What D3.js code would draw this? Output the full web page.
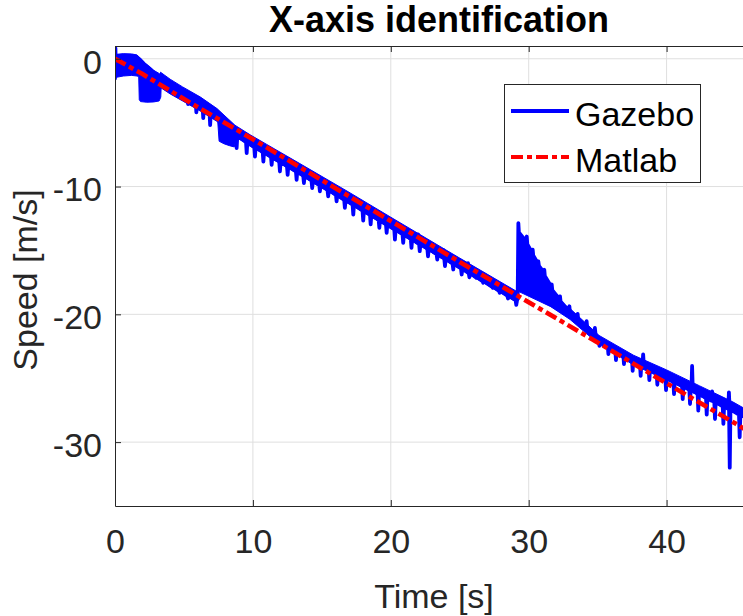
<!DOCTYPE html>
<html>
<head>
<meta charset="utf-8">
<script src="https://cdn.jsdelivr.net/npm/d3@7"></script>
<style>
  body { margin: 0; background: #fff; }
  svg { display: block; font-family: "Liberation Sans", Arial, Helvetica, sans-serif; }
  .grid line { stroke: #dfdfdf; stroke-width: 1; }
  .axis .domain, .axis .tick line { stroke: #262626; stroke-width: 1; }
  .axis text { fill: #262626; font-size: 34px; }
  .axis-label { fill: #262626; font-size: 34px; }
  .chart-title { fill: #000; font-size: 36px; font-weight: bold; }
  .legend text { fill: #000; font-size: 34px; }
</style>
</head>
<body>
<div id="chart"></div>
<script>
// axis limits and ticks
const xDomain = [0, 46.6];
const yDomain = [-35, 1];
const xTicks = [0, 10, 20, 30, 40];
const yTicks = [0, -10, -20, -30];
const seriesNames = ["Gazebo", "Matlab"];

// Matlab model output [time, speed]
const matlabData = [
  [0, 0], [2, -1.2], [5, -3.15], [10, -6.3], [15, -9.5], [20, -12.7],
  [25, -15.9], [30, -19.05], [35, -22.2], [40, -25.4], [45, -28.55], [46.6, -29.6]
];

// Gazebo: start of the run [time, speed]
const gazeboHead = [
  [0, -1.55], [0.03, 0.85], [0.07, -1.2], [0.12, 0.2], [0.6, 0.25], [1.2, 0.23],
  [1.55, 0.15], [1.8, -0.05], [2.1, -0.4], [2.5, -0.75], [3.0, -1.3], [3.7, -1.95],
  [4.3, -2.35], [4.9, -2.75], [5.25, -3.0], [5.3, -3.55], [5.35, -3.05], [5.85, -3.35],
  [5.9, -4.2], [5.95, -3.4], [6.35, -3.7], [6.4, -4.65], [6.45, -3.75], [6.85, -4.05],
  [6.9, -5.2], [6.95, -4.1], [7.4, -4.45], [8.0, -5.0], [8.7, -5.75]
];

// Gazebo: oscillation spikes [time, base speed, spike tip]
const gazeboSpikesMid = [
  [8.82, -6.05, -7.0], [9.55, -6.51, -7.39], [10.15, -6.9, -7.65], [10.76, -7.28, -8.04],
  [11.36, -7.66, -8.3], [11.96, -8.04, -8.82], [12.52, -8.4, -9.08], [13.17, -8.81, -9.47],
  [13.7, -9.15, -9.73], [14.3, -9.53, -10.12], [14.86, -9.89, -10.38], [15.46, -10.27, -10.76],
  [16.07, -10.65, -11.16], [16.67, -11.04, -11.66], [17.28, -11.42, -12.2], [18.0, -11.88, -12.66],
  [18.54, -12.22, -12.96], [19.17, -12.62, -13.24], [19.7, -12.96, -13.63], [20.3, -13.34, -14.15],
  [20.9, -13.72, -14.41], [21.5, -14.1, -14.8], [21.98, -14.41, -13.75], [22.1, -14.48, -15.06],
  [22.7, -14.86, -15.46], [23.37, -15.29, -15.71], [23.8, -15.56, -14.95], [23.93, -15.65, -16.23],
  [24.53, -16.03, -16.49], [25.14, -16.41, -16.88], [25.6, -16.71, -16.0], [25.7, -16.77, -17.1],
  [26.2, -17.09, -17.14], [26.7, -17.4, -17.53], [27.4, -17.85, -17.92], [27.9, -18.17, -18.31],
  [28.5, -18.55, -18.76], [29.1, -18.9, -19.26]
];

// Gazebo: disturbance near 29 s [time, speed]
const gazeboBurst = [
  [29.2, -18.8], [29.25, -12.87], [29.29, -13.6], [29.81, -14.3], [29.86, -13.91],
  [29.9, -14.5], [30.25, -15.2], [30.29, -14.94], [30.33, -15.4], [30.66, -16.0],
  [30.7, -15.86], [30.74, -16.2], [31.09, -16.7], [31.13, -16.51], [31.17, -17.0],
  [31.62, -17.8], [31.67, -17.67], [31.71, -18.1], [32.22, -18.8], [32.27, -18.59],
  [32.31, -19.0], [32.9, -19.7], [32.95, -19.37], [33.0, -20.0], [33.5, -20.4],
  [33.55, -19.97], [33.6, -20.55], [34.15, -21.0], [34.2, -20.54], [34.25, -21.1],
  [34.75, -21.5], [34.8, -21.06], [34.85, -21.6]
];

// Gazebo: spikes after the disturbance [time, base speed, spike tip]
const gazeboSpikesTail = [
  [35.13, -21.95, -22.46], [35.78, -22.4, -23.12], [36.33, -22.75, -23.59], [36.91, -23.1, -23.9],
  [37.54, -23.5, -24.42], [38.12, -23.85, -24.81], [38.3, -23.95, -23.14], [38.75, -24.25, -25.15],
  [39.33, -24.6, -25.51], [39.96, -24.95, -25.93], [40.54, -25.25, -26.24], [41.17, -25.6, -26.63],
  [41.7, -25.9, -27.02], [41.85, -25.97, -24.04], [42.3, -26.2, -27.54], [42.91, -26.55, -27.85],
  [43.3, -26.75, -26.04], [43.51, -26.85, -28.19], [44.12, -27.2, -28.58], [44.52, -27.4, -26.1],
  [44.58, -27.43, -32.0], [45.3, -27.85, -29.62]
];
const gazeboEnd = [[45.7, -28.05]];

// dense oscillation bands [time, lower, upper]
const bandStart = [
  [0.1, -1.45, 0.35], [0.6, -1.35, 0.4], [1.2, -1.3, 0.38], [1.6, -1.35, 0.3],
  [1.72, -1.4, 0.15], [1.76, -3.2, 0.05], [1.85, -3.35, -0.05], [2.3, -3.4, -0.45],
  [2.8, -3.38, -0.9], [3.2, -3.3, -1.15], [3.32, -3.0, -1.25], [3.36, -1.9, -1.27]
];
const bandEight = [
  [7.45, -4.9, -4.15], [7.55, -6.45, -4.25], [7.9, -6.65, -4.55], [8.3, -6.8, -4.95],
  [8.65, -6.9, -5.35], [8.72, -6.5, -5.45], [8.76, -6.0, -5.5]
];
const bandMain = [
  [3.3, -2.25, -1.05], [4.0, -2.75, -1.6], [4.9, -3.3, -2.2], [6.2, -4.1, -3.0],
  [7.4, -4.9, -3.9], [8.7, -6.05, -5.2], [9.8, -6.85, -5.95], [11, -7.6, -6.7],
  [13.4, -9.1, -8.2], [16.9, -11.3, -10.4], [20, -13.3, -12.4], [25, -16.45, -15.6],
  [29.2, -19.1, -18.25], [29.25, -18.2, -17.6], [31.6, -19.4, -18.6], [33.0, -20.4, -19.55],
  [35.1, -22.35, -21.65], [37.6, -23.95, -23.2], [40, -25.15, -24.35], [42.4, -26.4, -25.6],
  [44.8, -27.65, -26.85], [45.7, -28.15, -27.4]
];
const bandBurst = [
  [29.2, -18.3, -18.3], [29.24, -18.0, -13.0], [29.3, -17.95, -13.6], [29.85, -18.3, -14.4],
  [30.3, -18.6, -15.3], [30.7, -18.85, -16.1], [31.1, -19.05, -16.8], [31.65, -19.4, -17.9],
  [32.25, -19.8, -18.8], [32.9, -20.2, -19.6], [33.5, -20.55, -20.3], [34.0, -20.9, -20.85]
];

class SpeedVis {
  constructor(_parentElement) {
    this.parentElement = _parentElement;
    this.initVis();
  }

  initVis() {
    let vis = this;

    vis.width = 743;
    vis.height = 616;
    vis.margin = { top: 46, left: 115, bottom: 110 };
    vis.plotRight = 757.6;

    vis.svg = d3
      .select("#" + vis.parentElement)
      .append("svg")
      .attr("width", vis.width)
      .attr("height", vis.height);

    vis.x = d3.scaleLinear().domain(xDomain).range([vis.margin.left, vis.plotRight]);
    vis.y = d3.scaleLinear().domain(yDomain).range([vis.height - vis.margin.bottom, vis.margin.top]);

    vis.svg
      .append("defs")
      .append("clipPath")
      .attr("id", "plot-clip")
      .append("rect")
      .attr("x", vis.margin.left)
      .attr("y", vis.margin.top)
      .attr("width", vis.plotRight - vis.margin.left)
      .attr("height", vis.y.range()[0] - vis.margin.top);

    vis.gridGroup = vis.svg.append("g").attr("class", "grid");
    vis.plotGroup = vis.svg.append("g").attr("clip-path", "url(#plot-clip)");
    vis.axisGroup = vis.svg.append("g");
    vis.legendGroup = vis.svg.append("g").attr("class", "legend");

    vis.wrangleData();
  }

  wrangleData() {
    let vis = this;
    const spikeHalf = 0.05;
    const spikePoints = (list) =>
      list.flatMap(([t, base, tip]) => [
        [t - spikeHalf, base],
        [t, tip],
        [t + spikeHalf, base],
      ]);

    vis.gazeboData = [
      ...gazeboHead,
      ...spikePoints(gazeboSpikesMid),
      ...gazeboBurst,
      ...spikePoints(gazeboSpikesTail),
      ...gazeboEnd,
    ];
    vis.bands = [bandStart, bandEight, bandMain, bandBurst];

    vis.updateVis();
  }

  updateVis() {
    let vis = this;
    const x = vis.x;
    const y = vis.y;
    const yBottom = y.range()[0];

    // grid
    vis.gridGroup
      .selectAll(".gx")
      .data(xTicks.filter((d) => d !== 0))
      .join("line")
      .attr("class", "gx")
      .attr("x1", (d) => x(d))
      .attr("x2", (d) => x(d))
      .attr("y1", vis.margin.top)
      .attr("y2", yBottom);

    vis.gridGroup
      .selectAll(".gy")
      .data(yTicks)
      .join("line")
      .attr("class", "gy")
      .attr("x1", vis.margin.left)
      .attr("x2", vis.plotRight)
      .attr("y1", (d) => y(d))
      .attr("y2", (d) => y(d));

    // oscillation bands and lines
    const area = d3
      .area()
      .x((d) => x(d[0]))
      .y0((d) => y(d[1]))
      .y1((d) => y(d[2]));

    vis.plotGroup
      .selectAll(".band")
      .data(vis.bands)
      .join("path")
      .attr("class", "band")
      .attr("d", area)
      .attr("fill", "#0000ff")
      .attr("stroke", "#0000ff")
      .attr("stroke-width", 1)
      .attr("stroke-linejoin", "round");

    const line = d3
      .line()
      .x((d) => x(d[0]))
      .y((d) => y(d[1]));

    vis.plotGroup
      .append("path")
      .datum(vis.gazeboData)
      .attr("d", line)
      .attr("fill", "none")
      .attr("stroke", "#0000ff")
      .attr("stroke-width", 3.8)
      .attr("stroke-linejoin", "round")
      .attr("stroke-linecap", "round");

    vis.plotGroup
      .append("path")
      .datum(matlabData)
      .attr("d", line)
      .attr("fill", "none")
      .attr("stroke", "#ff0000")
      .attr("stroke-width", 4.6)
      .attr("stroke-dasharray", "12,4,5,4");

    // axes
    vis.axisGroup
      .append("g")
      .attr("class", "axis")
      .attr("transform", `translate(0,${yBottom})`)
      .call(d3.axisBottom(x).tickValues(xTicks).tickSizeInner(-6).tickSizeOuter(0).tickPadding(23));

    vis.axisGroup
      .append("g")
      .attr("class", "axis")
      .attr("transform", `translate(0,${vis.margin.top})`)
      .call(d3.axisTop(x).tickValues(xTicks).tickSizeInner(-6).tickSizeOuter(0).tickFormat(""));

    vis.axisGroup
      .append("g")
      .attr("class", "axis")
      .attr("transform", `translate(${vis.margin.left},0)`)
      .call(d3.axisLeft(y).tickValues(yTicks).tickSizeInner(-6).tickSizeOuter(0).tickPadding(13).tickFormat((d) => String(d)))
      .call((g) => g.selectAll("text").attr("dy", "0.42em"));

    vis.svg.selectAll(".axis text").attr("font-family", null).attr("font-size", null);

    // labels
    vis.svg
      .append("text")
      .attr("class", "chart-title")
      .attr("x", 439)
      .attr("y", 32)
      .attr("text-anchor", "middle")
      .text("X-axis identification");

    vis.svg
      .append("text")
      .attr("class", "axis-label")
      .attr("x", 434)
      .attr("y", 608)
      .attr("text-anchor", "middle")
      .text("Time [s]");

    vis.svg
      .append("text")
      .attr("class", "axis-label")
      .attr("transform", "translate(37,280) rotate(-90)")
      .attr("text-anchor", "middle")
      .text("Speed [m/s]");

    // legend
    vis.legendGroup
      .append("rect")
      .attr("x", 504.5)
      .attr("y", 84.5)
      .attr("width", 196)
      .attr("height", 98)
      .attr("fill", "#fff")
      .attr("stroke", "#262626")
      .attr("stroke-width", 1);

    const legendRows = vis.legendGroup
      .selectAll(".legend-row")
      .data(seriesNames)
      .join("g")
      .attr("class", "legend-row")
      .attr("transform", (d, i) => `translate(0,${111 + i * 46})`);

    legendRows
      .append("line")
      .attr("x1", 511)
      .attr("x2", 569)
      .attr("stroke", (d, i) => (i === 0 ? "#0000ff" : "#ff0000"))
      .attr("stroke-width", (d, i) => (i === 0 ? 3.8 : 4.2))
      .attr("stroke-dasharray", (d, i) => (i === 0 ? null : "12,4,5,4"));

    legendRows
      .append("text")
      .attr("x", 575)
      .attr("y", 15)
      .text((d) => d);
  }
}

new SpeedVis("chart");
</script>
</body>
</html>
